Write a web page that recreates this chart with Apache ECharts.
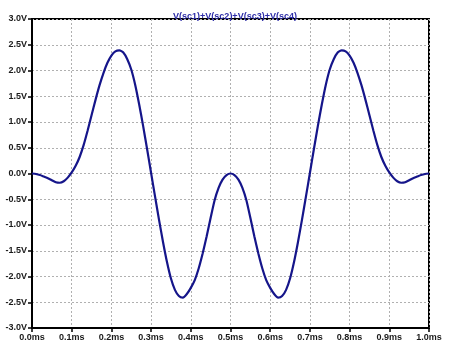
<!DOCTYPE html>
<html lang="en">
<head>
    <meta charset="UTF-8">
    <title>V(sc1)+V(sc2)+V(sc3)+V(sc4)</title>
    <style>
        html, body { margin: 0; padding: 0; background: #fff; }
    </style>
</head>
<body>
    <div id="main" style="width: 450px; height: 348px;"></div>

    <script src="https://cdn.jsdelivr.net/npm/echarts@6/dist/echarts.min.js"></script>
    <script>
        // time in ms, step 0.01ms
        var times = [];
        for (var i = 0; i <= 100; i++) times.push(+(i * 0.01).toFixed(2));

        // V(sc1)+V(sc2)+V(sc3)+V(sc4)
        var volts = [
            0.00, -0.01, -0.03, -0.06, -0.09, -0.13, -0.17, -0.18, -0.15, -0.08,
            0.02, 0.15, 0.32, 0.55, 0.83, 1.13, 1.43, 1.71, 1.95, 2.15,
            2.29, 2.37, 2.39, 2.35, 2.22, 2.02, 1.72, 1.34, 0.92, 0.47,
            0.01, -0.45, -0.90, -1.33, -1.72, -2.04, -2.26, -2.38, -2.41, -2.34,
            -2.22, -2.07, -1.84, -1.55, -1.22, -0.86, -0.52, -0.28, -0.12, -0.03,
            0.00,
            -0.03, -0.12, -0.28, -0.52, -0.86, -1.22, -1.55, -1.84, -2.07, -2.22,
            -2.34, -2.41, -2.38, -2.26, -2.04, -1.72, -1.33, -0.90, -0.45, 0.01,
            0.47, 0.92, 1.34, 1.72, 2.02, 2.22, 2.35, 2.39, 2.37, 2.29,
            2.15, 1.95, 1.71, 1.43, 1.13, 0.83, 0.55, 0.32, 0.15, 0.02,
            -0.08, -0.15, -0.18, -0.17, -0.13, -0.09, -0.06, -0.03, -0.01, 0.00
        ];

        var titleText = 'V(sc1)+V(sc2)+V(sc3)+V(sc4)';

        var points = times.map(function (t, i) { return [t, volts[i]]; });

        var labelStyle = {
            color: '#1a1a1a',
            fontSize: 9,
            fontWeight: 'bold',
            fontFamily: 'Liberation Sans, Arial, sans-serif'
        };

        var myChart = echarts.init(document.getElementById('main'));
        var option = {
            backgroundColor: '#fff',
            animation: false,
            title: {
                text: titleText,
                left: 230,
                textAlign: 'center',
                top: 7,
                textStyle: {
                    color: '#2e2ea8',
                    fontSize: 9,
                    fontWeight: 'bold',
                    fontFamily: 'Liberation Sans, Arial, sans-serif'
                }
            },
            grid: {
                left: 32,
                right: 21,
                top: 19,
                bottom: 20,
                show: true,
                borderColor: '#000',
                borderWidth: 2,
                containLabel: false
            },
            xAxis: {
                type: 'value',
                min: 0,
                max: 1,
                interval: 0.1,
                axisLine: { show: true, onZero: false, lineStyle: { color: '#000', width: 2 } },
                axisTick: { show: true, length: 4, lineStyle: { color: '#000', width: 1.5 } },
                axisLabel: Object.assign({
                    margin: 5,
                    formatter: function (v) { return v.toFixed(1) + 'ms'; }
                }, labelStyle),
                splitLine: { show: true, lineStyle: { color: '#b0b0b0', type: [2, 2], width: 1 } }
            },
            yAxis: {
                type: 'value',
                min: -3,
                max: 3,
                interval: 0.5,
                axisLine: { show: true, onZero: false, lineStyle: { color: '#000', width: 2 } },
                axisTick: { show: true, length: 4, lineStyle: { color: '#000', width: 1.5 } },
                axisLabel: Object.assign({
                    margin: 5,
                    formatter: function (v) { return v.toFixed(1) + 'V'; }
                }, labelStyle),
                splitLine: { show: true, lineStyle: { color: '#b0b0b0', type: [2, 2], width: 1 } }
            },
            series: [
                {
                    name: titleText,
                    type: 'line',
                    data: points,
                    smooth: 0.2,
                    showSymbol: false,
                    lineStyle: { color: '#15158a', width: 2.2 }
                }
            ]
        };
        myChart.setOption(option);
    </script>
</body>
</html>
